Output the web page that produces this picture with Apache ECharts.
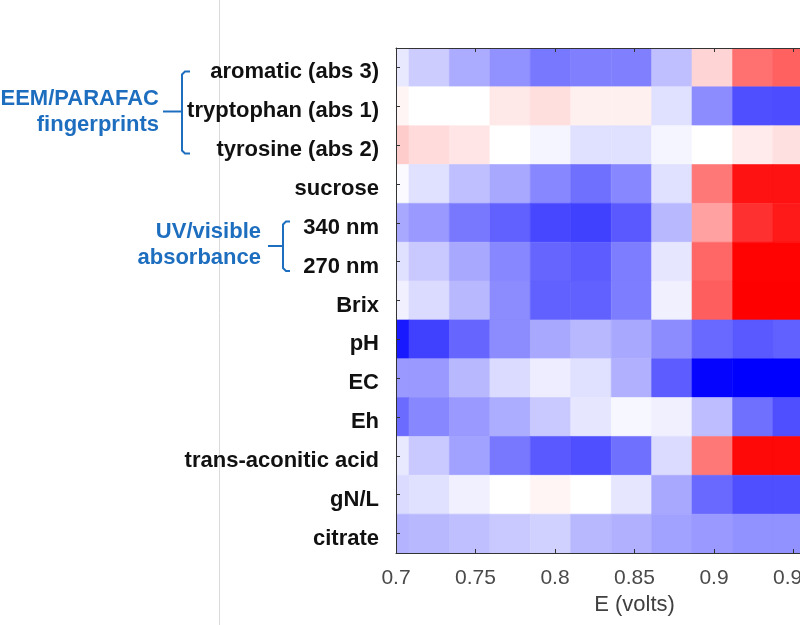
<!DOCTYPE html>
<html>
<head>
<meta charset="utf-8">
<script src="https://cdn.jsdelivr.net/npm/echarts@6/dist/echarts.min.js"></script>
<style>
  html, body { margin: 0; padding: 0; background: #fff; }
  #chart { width: 800px; height: 625px; }
</style>
</head>
<body>
<div id="chart"></div>
<script>
// Row labels (top to bottom)
const rowLabels = [
  'aromatic (abs 3)', 'tryptophan (abs 1)', 'tyrosine (abs 2)', 'sucrose',
  '340 nm', '270 nm', 'Brix', 'pH', 'EC', 'Eh',
  'trans-aconitic acid', 'gN/L', 'citrate'
];
// Column potentials (volts), cell centres
const eVolts = [0.6955, 0.7209, 0.7463, 0.7718, 0.7972, 0.8226, 0.8481, 0.8735, 0.8989, 0.9244, 0.9498];
// X tick settings
const xMin = 0.7, xMax = 1.0, xStep = 0.05;

// Correlation-like values per row (blue = negative, red = positive)
const aromatic      = [-0.09, -0.20, -0.33, -0.43, -0.53, -0.50, -0.50, -0.25,  0.17,  0.56,  0.62];
const tryptophan    = [ 0.04,  0.00,  0.00,  0.09,  0.13,  0.06,  0.06, -0.12, -0.45, -0.69, -0.70];
const tyrosine      = [ 0.20,  0.14,  0.10,  0.00, -0.04, -0.12, -0.12, -0.04,  0.00,  0.08,  0.12];
const sucrose       = [-0.02, -0.12, -0.25, -0.34, -0.47, -0.56, -0.47, -0.12,  0.53,  0.93,  0.93];
const nm340         = [-0.34, -0.40, -0.53, -0.62, -0.72, -0.75, -0.65, -0.28,  0.37,  0.81,  0.90];
const nm270         = [-0.12, -0.21, -0.34, -0.47, -0.60, -0.64, -0.51, -0.10,  0.60,  0.99,  0.99];
const brix          = [-0.06, -0.14, -0.28, -0.45, -0.62, -0.62, -0.51, -0.06,  0.63,  1.00,  1.00];
const pH            = [-0.90, -0.75, -0.60, -0.45, -0.34, -0.28, -0.34, -0.45, -0.59, -0.65, -0.62];
const EC            = [-0.40, -0.40, -0.28, -0.14, -0.07, -0.12, -0.31, -0.64, -0.98, -1.00, -1.00];
const Eh            = [-0.58, -0.47, -0.40, -0.32, -0.21, -0.10, -0.03, -0.06, -0.26, -0.56, -0.69];
const transAconitic = [-0.09, -0.21, -0.37, -0.53, -0.65, -0.69, -0.56, -0.14,  0.53,  0.97,  0.97];
const gNL           = [-0.14, -0.12, -0.06,  0.00,  0.04,  0.00, -0.10, -0.34, -0.59, -0.69, -0.69];
const citrate       = [-0.30, -0.28, -0.25, -0.21, -0.18, -0.28, -0.31, -0.37, -0.40, -0.43, -0.43];

const rows = [aromatic, tryptophan, tyrosine, sucrose, nm340, nm270, brix, pH, EC, Eh, transAconitic, gNL, citrate];

const cellData = [];
rows.forEach((r, ri) => r.forEach((v, ci) => cellData.push([eVolts[ci], ri, v])));

const cellW = 0.02543;
const blue = '#1E6EBF';
const chart = echarts.init(document.getElementById('chart'), null, { renderer: 'canvas' });

chart.setOption({
  backgroundColor: '#ffffff',
  animation: false,
  grid: { left: 396, top: 48, width: 477, height: 505, containLabel: false, outerBoundsMode: 'none' },
  visualMap: {
    show: false, type: 'continuous', dimension: 2, min: -1, max: 1, seriesIndex: 0,
    inRange: { color: ['#0000ff', '#ffffff', '#ff0000'] }
  },
  xAxis: [{
    type: 'value', position: 'bottom', min: xMin, max: xMax, interval: xStep, z: 10,
    name: 'E (volts)', nameLocation: 'middle', nameGap: 37,
    nameTextStyle: { fontFamily: 'Liberation Sans', fontSize: 22, color: '#404040' },
    axisLine: { show: true, onZero: false, lineStyle: { color: '#333', width: 1 } },
    axisTick: { show: true, inside: true, length: 4, lineStyle: { color: '#333' } },
    axisLabel: { fontFamily: 'Liberation Sans', fontSize: 21, color: '#4a4a4a', margin: 15,
      showMaxLabel: false, formatter: v => String(+v.toFixed(2)) },
    splitLine: { show: false }
  }, {
    type: 'value', position: 'top', min: xMin, max: xMax, interval: xStep, z: 10,
    axisLine: { show: true, onZero: false, lineStyle: { color: '#333', width: 1 } },
    axisTick: { show: true, inside: true, length: 4, lineStyle: { color: '#333' } },
    axisLabel: { show: false },
    splitLine: { show: false }
  }],
  yAxis: {
    type: 'category', data: rowLabels, inverse: true, z: 10,
    axisLine: { show: true, onZero: false, lineStyle: { color: '#333', width: 1 } },
    axisTick: { show: true, inside: true, length: 4, alignWithLabel: true, lineStyle: { color: '#333' } },
    axisLabel: { fontFamily: 'Liberation Sans', fontWeight: 'bold', fontSize: 22, color: '#111',
      margin: 17, verticalAlign: 'top', lineHeight: 10 },
    splitLine: { show: false }
  },
  series: [{
    type: 'custom',
    clip: true,
    z: 1,
    data: cellData,
    encode: { x: 0, y: 1 },
    renderItem: function (params, api) {
      const x = api.value(0), yi = api.value(1);
      const p0 = api.coord([x - cellW / 2, yi]);
      const p1 = api.coord([x + cellW / 2, yi]);
      const h = api.size([0, 1])[1];
      const c = api.visual('color');
      return {
        type: 'rect',
        shape: { x: p0[0], y: p0[1] - h / 2, width: p1[0] - p0[0], height: h },
        style: { fill: c, stroke: c, lineWidth: 0.6 }
      };
    }
  }],
  graphic: [
    { type: 'line', shape: { x1: 219.5, y1: 0, x2: 219.5, y2: 625 }, style: { stroke: '#dadada', lineWidth: 1 }, z: -1 },
    { type: 'text', x: 159, y: 99, style: { text: 'EEM/PARAFAC', fill: blue, font: 'bold 22px "Liberation Sans"', textAlign: 'right', textVerticalAlign: 'middle' } },
    { type: 'text', x: 159, y: 125, style: { text: 'fingerprints', fill: blue, font: 'bold 22px "Liberation Sans"', textAlign: 'right', textVerticalAlign: 'middle' } },
    { type: 'text', x: 261, y: 232, style: { text: 'UV/visible', fill: blue, font: 'bold 22px "Liberation Sans"', textAlign: 'right', textVerticalAlign: 'middle' } },
    { type: 'text', x: 261, y: 258, style: { text: 'absorbance', fill: blue, font: 'bold 22px "Liberation Sans"', textAlign: 'right', textVerticalAlign: 'middle' } },
    { type: 'polyline', shape: { points: [[190, 71.5], [185, 71.5], [182, 74.5], [182, 150.5], [185, 153.5], [190, 153.5]] }, style: { stroke: blue, lineWidth: 2, fill: null } },
    { type: 'line', shape: { x1: 163, y1: 111.5, x2: 182, y2: 111.5 }, style: { stroke: blue, lineWidth: 2 } },
    { type: 'polyline', shape: { points: [[290, 221.5], [286, 221.5], [283, 224.5], [283, 268], [286, 271], [290, 271]] }, style: { stroke: blue, lineWidth: 2, fill: null } },
    { type: 'line', shape: { x1: 268, y1: 246, x2: 283, y2: 246 }, style: { stroke: blue, lineWidth: 2 } }
  ]
});
</script>
</body>
</html>
